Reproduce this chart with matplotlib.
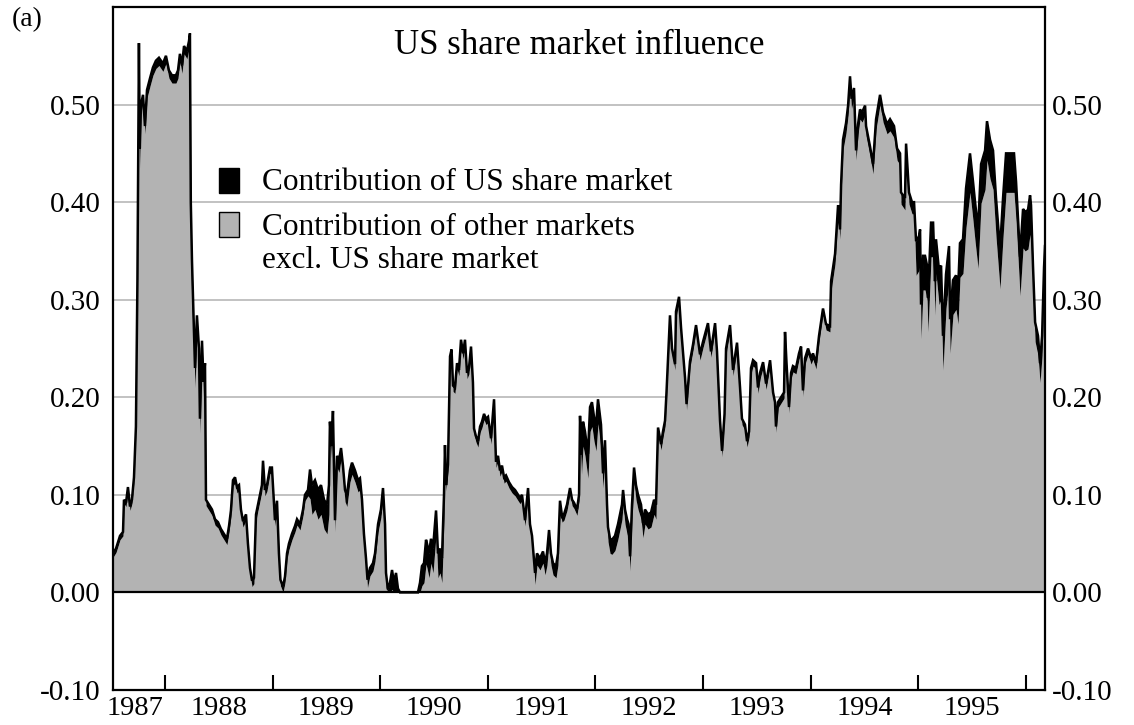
import numpy as np
import matplotlib
matplotlib.use("Agg")
import matplotlib.pyplot as plt
from matplotlib.patches import Rectangle

# ---------------- data (decimal years) ----------------
dates = [
    # 1987 - 1988
    1987.517, 1987.545, 1987.582, 1987.610, 1987.619, 1987.638, 1987.656, 1987.675, 1987.693, 1987.712, 1987.730,
    1987.744, 1987.758, 1987.766,
    1987.777, 1987.796, 1987.814, 1987.833, 1987.861, 1987.888, 1987.916, 1987.944, 1987.981, 1988.009,
    1988.037, 1988.065, 1988.102, 1988.121, 1988.139, 1988.158, 1988.177, 1988.204, 1988.223, 1988.232,
    1988.240, 1988.251, 1988.265, 1988.279, 1988.297, 1988.316, 1988.325, 1988.344, 1988.358, 1988.372,
    1988.381, 1988.409, 1988.437, 1988.465, 1988.493, 1988.520, 1988.548, 1988.576, 1988.595, 1988.613,
    1988.632, 1988.651, 1988.669, 1988.688, 1988.706, 1988.725, 1988.753, 1988.771, 1988.790, 1988.809,
    1988.827, 1988.846, 1988.864, 1988.883, 1988.901, 1988.911, 1988.929, 1988.948, 1988.976, 1988.994,
    # 1989 - 1990
    1989.022, 1989.041, 1989.059, 1989.073, 1989.097, 1989.115, 1989.134, 1989.152, 1989.180, 1989.208,
    1989.227, 1989.255, 1989.283, 1989.301, 1989.329,
    1989.348, 1989.366, 1989.394, 1989.422, 1989.450, 1989.478, 1989.506, 1989.524,
    1989.533, 1989.547, 1989.561, 1989.571, 1989.580, 1989.599, 1989.617, 1989.636, 1989.654, 1989.673,
    1989.691, 1989.719, 1989.738, 1989.766, 1989.794, 1989.812,
    1989.831, 1989.849, 1989.868, 1989.882, 1989.905, 1989.933, 1989.952, 1989.980, 1990.007,
    1990.026, 1990.045, 1990.054, 1990.072, 1990.091, 1990.110, 1990.128, 1990.147, 1990.165,
    1990.184, 1990.277, 1990.351,
    1990.370, 1990.388, 1990.407, 1990.426,
    # 1990 - 1991
    1990.435, 1990.454, 1990.472, 1990.491, 1990.519, 1990.537, 1990.556, 1990.574, 1990.593,
    1990.602, 1990.612, 1990.630, 1990.649, 1990.663, 1990.677, 1990.695, 1990.714, 1990.732, 1990.751,
    1990.770, 1990.788, 1990.807, 1990.825, 1990.844, 1990.862, 1990.872, 1990.890, 1990.909, 1990.928,
    1990.946, 1990.965, 1990.983, 1991.002, 1991.030, 1991.058, 1991.076, 1991.095, 1991.113, 1991.132,
    1991.151, 1991.169, 1991.197, 1991.225, 1991.253, 1991.281, 1991.299, 1991.318, 1991.346, 1991.374,
    1991.392, 1991.411,
    1991.439, 1991.457, 1991.485, 1991.513, 1991.532, 1991.550, 1991.569, 1991.587, 1991.606, 1991.634,
    1991.652, 1991.671,
    1991.690, 1991.708, 1991.736, 1991.764, 1991.783, 1991.801, 1991.829, 1991.848,
    1991.857, 1991.871,
    # 1992 - 1993
    1991.885, 1991.903, 1991.931, 1991.950, 1991.968, 1991.987, 1992.006, 1992.024, 1992.043, 1992.052,
    1992.071, 1992.089, 1992.108, 1992.117,
    1992.136, 1992.154, 1992.182, 1992.210, 1992.229, 1992.247, 1992.257, 1992.275, 1992.294, 1992.308,
    1992.322, 1992.340, 1992.359, 1992.377, 1992.396, 1992.424, 1992.442, 1992.461, 1992.489, 1992.517,
    1992.545, 1992.563,
    1992.582, 1992.610, 1992.628, 1992.647, 1992.661, 1992.693, 1992.712, 1992.740, 1992.749, 1992.777,
    1992.796, 1992.833, 1992.847, 1992.879, 1992.907, 1992.935, 1992.972, 1993.000, 1993.046, 1993.074,
    1993.112, 1993.130, 1993.158, 1993.177, 1993.200, 1993.214, 1993.251, 1993.279,
    # 1993 - 1994
    1993.316, 1993.344, 1993.362, 1993.390, 1993.409, 1993.428, 1993.446, 1993.465, 1993.493, 1993.511,
    1993.530, 1993.558, 1993.586, 1993.623, 1993.651, 1993.669, 1993.678, 1993.697, 1993.725, 1993.753,
    1993.762, 1993.776, 1993.799, 1993.818, 1993.836, 1993.864, 1993.892, 1993.911, 1993.929, 1993.948,
    1993.976, 1994.004, 1994.022, 1994.050, 1994.078, 1994.115, 1994.143, 1994.180,
    1994.190, 1994.227, 1994.255, 1994.273, 1994.283, 1994.301, 1994.329, 1994.348, 1994.366, 1994.380,
    1994.403, 1994.422, 1994.441, 1994.459, 1994.478, 1994.506, 1994.515, 1994.552, 1994.580, 1994.608,
    1994.645, 1994.673, 1994.710,
    # 1994 - 1996
    1994.738, 1994.775, 1994.803, 1994.831, 1994.840, 1994.877, 1994.887, 1994.914, 1994.942, 1994.961,
    1994.980, 1995.007, 1995.017, 1995.026, 1995.045, 1995.063, 1995.082, 1995.091, 1995.119, 1995.138,
    1995.156, 1995.165, 1995.193, 1995.212, 1995.230, 1995.258, 1995.286, 1995.296, 1995.323, 1995.351,
    1995.370, 1995.388, 1995.416,
    1995.444, 1995.481, 1995.509, 1995.528, 1995.556, 1995.584, 1995.621, 1995.639, 1995.667, 1995.695,
    1995.723, 1995.760, 1995.788, 1995.816, 1995.853, 1995.890, 1995.909, 1995.946, 1995.974, 1995.993,
    1996.020, 1996.039, 1996.048,
    1996.067, 1996.086, 1996.113, 1996.132, 1996.151, 1996.169, 1996.178,
]

# total influence (other markets + US share market)
total_influence = [
    0.040, 0.045, 0.058, 0.062, 0.095, 0.092, 0.108, 0.088, 0.095, 0.118, 0.170,
    0.320, 0.563, 0.455,
    0.500, 0.510, 0.478, 0.515, 0.527, 0.538, 0.545, 0.548, 0.542, 0.550,
    0.535, 0.530, 0.530, 0.535, 0.552, 0.540, 0.560, 0.555, 0.565, 0.573,
    0.400, 0.340, 0.284, 0.230, 0.284, 0.250, 0.178, 0.258, 0.216, 0.235,
    0.095, 0.090, 0.085, 0.075, 0.072, 0.065, 0.060, 0.055, 0.068, 0.084,
    0.115, 0.118, 0.108, 0.110, 0.085, 0.073, 0.080, 0.050, 0.025, 0.012,
    0.015, 0.080, 0.090, 0.100, 0.110, 0.135, 0.105, 0.110, 0.128, 0.128,
    # 1989 - 1990
    0.074, 0.094, 0.040, 0.013, 0.006, 0.016, 0.040, 0.050, 0.060, 0.068,
    0.075, 0.070, 0.085, 0.100, 0.105,
    0.126, 0.110, 0.115, 0.105, 0.110, 0.095, 0.090, 0.110,
    0.175, 0.150, 0.186, 0.130, 0.074, 0.140, 0.135, 0.148, 0.130, 0.105,
    0.100, 0.125, 0.133, 0.125, 0.115, 0.117,
    0.095, 0.060, 0.035, 0.013, 0.025, 0.030, 0.040, 0.070, 0.085,
    0.107, 0.070, 0.020, 0.003, 0.010, 0.023, 0.010, 0.020, 0.004,
    0.000, 0.000, 0.000,
    0.010, 0.027, 0.030, 0.054,
    # 1990 - 1991
    0.050, 0.040, 0.055, 0.045, 0.084, 0.040, 0.045, 0.035, 0.100,
    0.151, 0.110, 0.131, 0.242, 0.249, 0.212, 0.210, 0.235, 0.228, 0.259,
    0.245, 0.259, 0.225, 0.230, 0.252, 0.215, 0.168, 0.160, 0.155, 0.170,
    0.175, 0.183, 0.178, 0.180, 0.158, 0.198, 0.134, 0.140, 0.125, 0.130,
    0.118, 0.120, 0.113, 0.108, 0.105, 0.100, 0.097, 0.100, 0.074, 0.107,
    0.070, 0.058,
    0.020, 0.040, 0.035, 0.042, 0.030, 0.040, 0.064, 0.040, 0.030, 0.027,
    0.040, 0.094,
    0.078, 0.080, 0.090, 0.107, 0.095, 0.092, 0.085, 0.100,
    0.181, 0.141,
    # 1992 - 1993
    0.175, 0.165, 0.142, 0.190, 0.195, 0.180, 0.170, 0.198, 0.180, 0.172,
    0.122, 0.156, 0.090, 0.067,
    0.055, 0.054, 0.058, 0.070, 0.080, 0.090, 0.105, 0.085, 0.075, 0.070,
    0.037, 0.090, 0.128, 0.110, 0.100, 0.090, 0.071, 0.085, 0.080, 0.082,
    0.095, 0.090,
    0.169, 0.152, 0.165, 0.176, 0.206, 0.284, 0.250, 0.234, 0.288, 0.303,
    0.271, 0.220, 0.193, 0.237, 0.254, 0.274, 0.244, 0.257, 0.276, 0.247,
    0.276, 0.247, 0.176, 0.145, 0.183, 0.250, 0.274, 0.228,
    # 1993 - 1994
    0.256, 0.210, 0.178, 0.172, 0.155, 0.165, 0.230, 0.238, 0.235, 0.210,
    0.225, 0.236, 0.214, 0.238, 0.205, 0.195, 0.170, 0.195, 0.200, 0.205,
    0.267, 0.235, 0.190, 0.225, 0.232, 0.230, 0.245, 0.252, 0.207, 0.240,
    0.250, 0.240, 0.245, 0.235, 0.263, 0.291, 0.275, 0.273,
    0.319, 0.347, 0.397, 0.372, 0.418, 0.464, 0.481, 0.499, 0.529, 0.506,
    0.517, 0.453, 0.480, 0.495, 0.492, 0.499, 0.478, 0.457, 0.439, 0.485,
    0.510, 0.492, 0.480,
    # 1994 - 1996
    0.485, 0.478, 0.455, 0.450, 0.410, 0.404, 0.460, 0.410, 0.400, 0.400,
    0.360, 0.365, 0.372, 0.295, 0.345, 0.345, 0.335, 0.302, 0.379, 0.379,
    0.319, 0.362, 0.330, 0.335, 0.263, 0.326, 0.355, 0.280, 0.320, 0.325,
    0.310, 0.358, 0.362,
    0.414, 0.450, 0.421, 0.400, 0.372, 0.439, 0.453, 0.483, 0.464, 0.453,
    0.404, 0.351, 0.404, 0.450, 0.450, 0.450, 0.421, 0.344, 0.393, 0.390,
    0.392, 0.407, 0.397,
    0.333, 0.277, 0.263, 0.235, 0.263, 0.333, 0.355,
]

# contribution of US share market (black band on top)
us_contribution = [
    0.004, 0.004, 0.004, 0.004, 0.004, 0.004, 0.004, 0.004, 0.004, 0.004, 0.004,
    0.010, 0.030, 0.020,
    0.008, 0.008, 0.008, 0.008, 0.008, 0.008, 0.008, 0.008, 0.008, 0.008,
    0.008, 0.008, 0.008, 0.008, 0.008, 0.008, 0.008, 0.008, 0.008, 0.008,
    0.060, 0.050, 0.020, 0.020, 0.020, 0.020, 0.015, 0.015, 0.015, 0.015,
    0.006, 0.006, 0.006, 0.006, 0.006, 0.006, 0.006, 0.006, 0.006, 0.006,
    0.006, 0.006, 0.006, 0.006, 0.006, 0.006, 0.006, 0.006, 0.006, 0.006,
    0.006, 0.006, 0.006, 0.006, 0.006, 0.006, 0.006, 0.006, 0.006, 0.006,
    # 1989 - 1990
    0.006, 0.006, 0.006, 0.006, 0.006, 0.006, 0.006, 0.006, 0.006, 0.006,
    0.006, 0.006, 0.006, 0.006, 0.006,
    0.030, 0.030, 0.030, 0.030, 0.030, 0.030, 0.030, 0.030,
    0.012, 0.012, 0.012, 0.012, 0.012, 0.012, 0.012, 0.012, 0.012, 0.012,
    0.012, 0.012, 0.012, 0.012, 0.012, 0.012,
    0.008, 0.008, 0.008, 0.008, 0.008, 0.008, 0.008, 0.008, 0.008,
    0.010, 0.015, 0.015, 0.003, 0.010, 0.020, 0.010, 0.020, 0.004,
    0.000, 0.000, 0.000,
    0.010, 0.020, 0.020, 0.025,
    # 1990 - 1991
    0.025, 0.025, 0.025, 0.025, 0.025, 0.025, 0.025, 0.025, 0.025,
    0.006, 0.006, 0.006, 0.006, 0.006, 0.006, 0.006, 0.006, 0.006, 0.006,
    0.006, 0.006, 0.006, 0.006, 0.006, 0.006, 0.006, 0.006, 0.006, 0.006,
    0.006, 0.006, 0.006, 0.006, 0.006, 0.006, 0.006, 0.006, 0.006, 0.006,
    0.006, 0.006, 0.006, 0.006, 0.006, 0.006, 0.006, 0.006, 0.006, 0.006,
    0.006, 0.006,
    0.012, 0.012, 0.012, 0.012, 0.012, 0.012, 0.012, 0.012, 0.012, 0.012,
    0.012, 0.012,
    0.006, 0.006, 0.006, 0.006, 0.006, 0.006, 0.006, 0.006,
    0.020, 0.020,
    # 1992 - 1993
    0.025, 0.025, 0.025, 0.025, 0.025, 0.025, 0.025, 0.025, 0.025, 0.025,
    0.015, 0.015, 0.015, 0.015,
    0.015, 0.015, 0.015, 0.015, 0.015, 0.015, 0.015, 0.015, 0.015, 0.015,
    0.015, 0.015, 0.015, 0.015, 0.015, 0.015, 0.015, 0.015, 0.015, 0.015,
    0.015, 0.015,
    0.006, 0.006, 0.006, 0.006, 0.006, 0.006, 0.006, 0.006, 0.006, 0.006,
    0.006, 0.006, 0.006, 0.006, 0.006, 0.006, 0.006, 0.006, 0.006, 0.006,
    0.006, 0.006, 0.006, 0.006, 0.006, 0.006, 0.006, 0.006,
    # 1993 - 1994
    0.006, 0.006, 0.006, 0.006, 0.006, 0.006, 0.006, 0.006, 0.006, 0.006,
    0.006, 0.006, 0.006, 0.006, 0.006, 0.006, 0.006, 0.006, 0.006, 0.006,
    0.006, 0.006, 0.006, 0.006, 0.006, 0.006, 0.006, 0.006, 0.006, 0.006,
    0.006, 0.006, 0.006, 0.006, 0.006, 0.006, 0.006, 0.006,
    0.010, 0.010, 0.010, 0.010, 0.010, 0.010, 0.010, 0.010, 0.010, 0.010,
    0.010, 0.010, 0.010, 0.010, 0.010, 0.010, 0.010, 0.010, 0.010, 0.010,
    0.010, 0.010, 0.010,
    # 1994 - 1996
    0.012, 0.012, 0.012, 0.012, 0.012, 0.012, 0.012, 0.012, 0.012, 0.012,
    0.035, 0.035, 0.035, 0.035, 0.035, 0.035, 0.035, 0.035, 0.035, 0.035,
    0.035, 0.035, 0.035, 0.035, 0.035, 0.035, 0.035, 0.035, 0.035, 0.035,
    0.035, 0.035, 0.035,
    0.040, 0.040, 0.040, 0.040, 0.040, 0.040, 0.040, 0.040, 0.040, 0.040,
    0.040, 0.040, 0.040, 0.040, 0.040, 0.040, 0.040, 0.040, 0.040, 0.040,
    0.040, 0.040, 0.040,
    0.020, 0.020, 0.020, 0.020, 0.020, 0.020, 0.020,
]

year_labels = ['1987', '1988', '1989', '1990', '1991', '1992', '1993', '1994', '1995']
ytick_values = [-0.10, 0.00, 0.10, 0.20, 0.30, 0.40, 0.50]
ytick_labels = ['-0.10', '0.00', '0.10', '0.20', '0.30', '0.40', '0.50']
title = 'US share market influence'
legend_labels = ['Contribution of US share market',
                 'Contribution of other markets\nexcl. US share market']

assert len(dates) == len(total_influence) == len(us_contribution)

# ---------------- drawing ----------------
FONT = ['Liberation Serif', 'DejaVu Serif']
plt.rcParams['font.family'] = FONT

x = np.array(dates)
tot = np.array(total_influence)
us = np.array(us_contribution)
other = np.clip(tot - us, 0, None)

W, H = 1134, 725
fig = plt.figure(figsize=(W / 100, H / 100), dpi=100)
ax = fig.add_axes([113 / W, 1 - 690 / H, (1045 - 113) / W, (690 - 7) / H])

xmin, xmax = 1987.517, 1996.178
ax.set_xlim(xmin, xmax)
ax.set_ylim(-0.10, 0.60)

GRID = '#bdbdbd'
for v in ytick_values:
    if v > 0:
        ax.axhline(v, color=GRID, lw=1.3, zorder=0)

ax.fill_between(x, 0, other, color='#b3b3b3', lw=0, zorder=2)
ax.fill_between(x, other, tot, color='black', lw=0, zorder=3)
ax.plot(x, tot, color='black', lw=1.8, zorder=4, solid_joinstyle='miter')
ax.axhline(0, color='black', lw=1.6, zorder=5)

for s in ax.spines.values():
    s.set_linewidth(1.6)

# y ticks both sides
YFS = 21
ax.set_yticks(ytick_values)
ax.set_yticklabels(ytick_labels, fontsize=YFS)
ax.tick_params(axis='y', length=0, pad=9)
axr = ax.twinx()
axr.set_ylim(ax.get_ylim())
axr.set_yticks(ytick_values)
axr.set_yticklabels(ytick_labels, fontsize=YFS)
axr.tick_params(axis='y', length=0, pad=5)
for s in axr.spines.values():
    s.set_visible(False)

# x ticks: year boundaries (inward marks), labels centred in each year
years = [int(y) for y in year_labels]
ax.set_xticks([y + 1 for y in years])
ax.set_xticklabels([''] * len(years))
ax.tick_params(axis='x', which='major', direction='in', length=11, width=1.5)
label_pos = [y + 0.5 for y in years]
label_pos[0] = years[0] + 0.72  # first (partial) year: label sits in the visible part
ax.set_xticks(label_pos, minor=True)
ax.set_xticklabels(year_labels, minor=True, fontsize=20.5)
ax.tick_params(axis='x', which='minor', length=0, pad=4)

# title and panel letter
fig.text(579 / W, 1 - 45 / H, title, ha='center', va='center', fontsize=25)
fig.text(12 / W, 1 - 20 / H, '(a)', ha='left', va='center', fontsize=20)

# manual legend
fig.add_artist(Rectangle((219 / W, 1 - 193 / H), 20 / W, 25 / H, transform=fig.transFigure,
                         facecolor='black', edgecolor='black', lw=1))
fig.add_artist(Rectangle((219 / W, 1 - 237 / H), 20 / W, 25 / H, transform=fig.transFigure,
                         facecolor='#b3b3b3', edgecolor='black', lw=1))
fig.text(262 / W, 1 - 182 / H, legend_labels[0], ha='left', va='center', fontsize=22.5)
fig.text(262 / W, 1 - 244 / H, legend_labels[1], ha='left', va='center', fontsize=22.5,
         linespacing=1.2)

fig.savefig('out.png', dpi=100)
